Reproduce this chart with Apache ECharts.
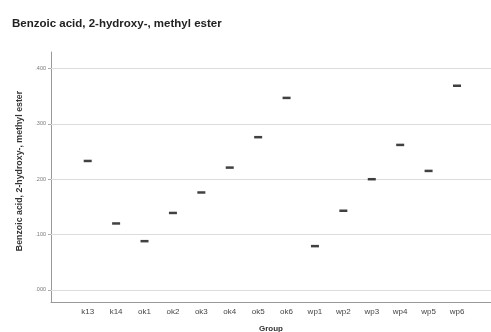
<!DOCTYPE html>
<html>
<head>
<meta charset="utf-8">
<script src="https://cdn.jsdelivr.net/npm/echarts@6/dist/echarts.min.js"></script>
<style>
  html, body { margin: 0; padding: 0; background: #fff; }
  #chart { width: 491px; height: 332px; }
</style>
</head>
<body>
<div id="chart"></div>
<script>
const groups = ['k13', 'k14', 'ok1', 'ok2', 'ok3', 'ok4', 'ok5', 'ok6', 'wp1', 'wp2', 'wp3', 'wp4', 'wp5', 'wp6'];
const means = [0.233, 0.120, 0.088, 0.139, 0.176, 0.221, 0.276, 0.347, 0.079, 0.143, 0.200, 0.262, 0.215, 0.369];
const yTicks = [0, 0.1, 0.2, 0.3, 0.4];

const yMin = -0.022, yMax = 0.43;
const font = 'Liberation Sans, Arial, sans-serif';

const chart = echarts.init(document.getElementById('chart'));
chart.setOption({
  animation: false,
  title: {
    text: 'Benzoic acid, 2-hydroxy-, methyl ester',
    left: 7, top: 13,
    textStyle: { fontFamily: font, fontSize: 11.5, fontWeight: 'bold', color: '#222' }
  },
  grid: [
    // frame with gridlines, reaching the right edge
    { left: 51, right: 0, top: 52, bottom: 30, containLabel: false, outerBoundsMode: 'none' },
    // inner band where the groups sit
    { left: 73.5, right: 19.8, top: 52, bottom: 30, containLabel: false, outerBoundsMode: 'none' }
  ],
  xAxis: [
    {
      gridIndex: 0, type: 'value', min: 0, max: 1,
      axisLine: { show: true, onZero: false, lineStyle: { color: '#999', width: 1 } },
      axisTick: { show: false }, axisLabel: { show: false }, splitLine: { show: false },
      name: 'Group', nameLocation: 'middle', nameGap: 23,
      nameTextStyle: { fontFamily: font, fontSize: 8, fontWeight: 'bold', color: '#333' }
    },
    {
      gridIndex: 1, type: 'category', data: groups,
      axisLine: { show: false }, axisTick: { show: false },
      axisLabel: { fontFamily: font, fontSize: 8, color: '#444', margin: 6 }
    }
  ],
  yAxis: [
    {
      gridIndex: 0, type: 'value', min: yMin, max: yMax,
      axisLine: { show: true, lineStyle: { color: '#999', width: 1 } },
      axisTick: { show: true, length: 3, inside: false, lineStyle: { color: '#aaa' },
        customValues: yTicks },
      axisLabel: {
        fontFamily: font, fontSize: 5.5, color: '#777', margin: 5,
        customValues: yTicks,
        formatter: v => v.toFixed(3).replace(/^0/, '')
      },
      splitLine: { show: false },
      name: 'Benzoic acid, 2-hydroxy-, methyl ester', nameLocation: 'middle', nameGap: 22,
      nameTextStyle: { fontFamily: font, fontSize: 8.8, fontWeight: 'bold', color: '#333',
        padding: [0, 0, 0, 12] }
    },
    {
      gridIndex: 1, type: 'value', min: yMin, max: yMax, show: false
    }
  ],
  series: [
    {
      // horizontal gridlines across the full frame
      type: 'line', xAxisIndex: 0, yAxisIndex: 0, data: [], silent: true, z: 1,
      markLine: {
        symbol: 'none', silent: true, label: { show: false },
        lineStyle: { color: '#ddd', width: 1, type: 'solid' },
        data: yTicks.map(v => ({ yAxis: v }))
      }
    },
    {
      type: 'scatter', xAxisIndex: 1, yAxisIndex: 1, z: 10,
      symbol: 'rect', symbolSize: [8, 2.5],
      itemStyle: { color: '#111' },
      data: means
    }
  ]
});
</script>
</body>
</html>
